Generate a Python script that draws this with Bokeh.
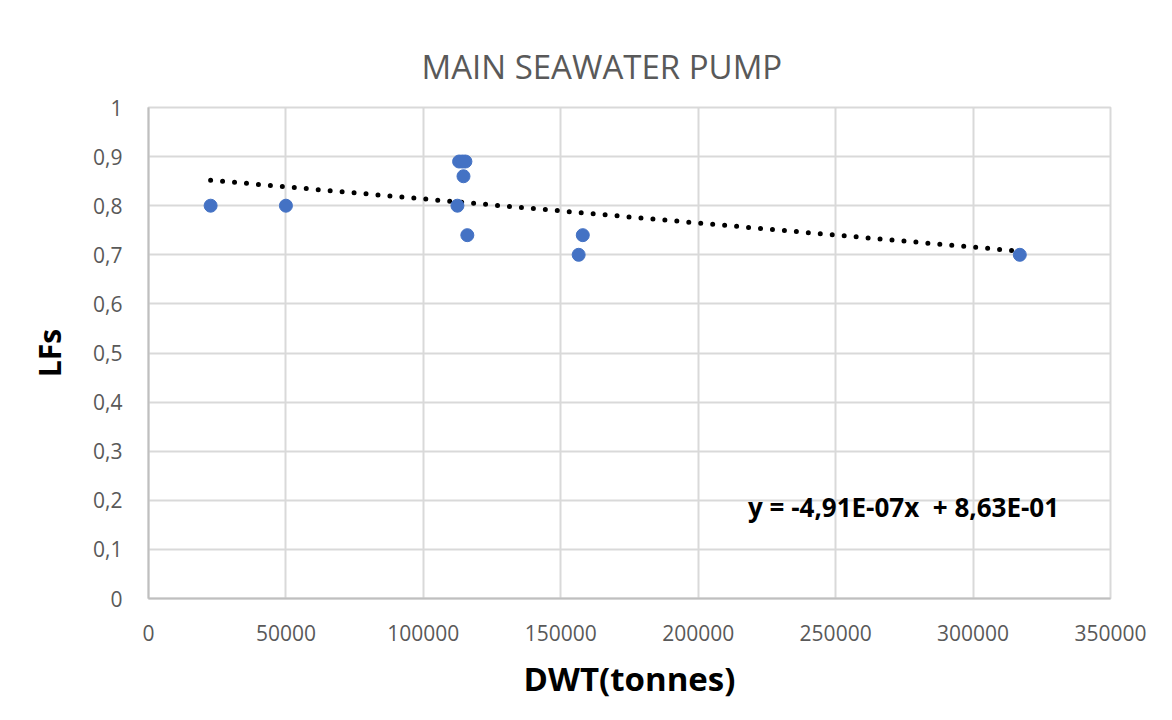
from bokeh.plotting import figure
from bokeh.models import ColumnDataSource, FixedTicker, Label, Range1d
from bokeh.embed import file_html
from bokeh.resources import INLINE

# Data
dwt = [22600, 50000, 112400, 114600, 113000, 114200, 115300, 116000, 156500, 158000, 317000]
lfs = [0.80, 0.80, 0.80, 0.86, 0.89, 0.89, 0.89, 0.74, 0.70, 0.74, 0.70]

slope = -4.91e-07
intercept = 0.863

x_ticks = [0, 50000, 100000, 150000, 200000, 250000, 300000, 350000]
y_ticks = [0.0, 0.1, 0.2, 0.3, 0.4, 0.5, 0.6, 0.7, 0.8, 0.9, 1.0]
y_tick_labels = ["0", "0,1", "0,2", "0,3", "0,4", "0,5", "0,6", "0,7", "0,8", "0,9", "1"]

title_text = "MAIN SEAWATER PUMP"
eq_text = "y = -4,91E-07x\u00a0\u00a0+ 8,63E-01"

W, H = 1160, 710
FONT = "Open Sans"
GRID = "#D9D9D9"
TXT = "#595959"

p = figure(width=W, height=H, output_backend="svg", toolbar_location=None,
           x_range=Range1d(0, 350000), y_range=Range1d(0, 1), title=title_text,
           min_border_left=148, min_border_right=50, min_border_top=107, min_border_bottom=112)

p.title.align = "left"
p.title.offset = 273
p.title.standoff = 37
p.title.text_font = FONT
p.title.text_font_size = "33px"
p.title.text_font_style = "normal"
p.title.text_color = TXT

p.xaxis.ticker = FixedTicker(ticks=x_ticks)
p.yaxis.ticker = FixedTicker(ticks=y_ticks)
p.xaxis.major_label_overrides = {t: str(t) for t in x_ticks}
p.yaxis.major_label_overrides = {t: l for t, l in zip(y_ticks, y_tick_labels)}

for ax in (p.xaxis, p.yaxis):
    ax.major_tick_line_color = None
    ax.minor_tick_line_color = None
    ax.axis_line_color = "#BFBFBF"
    ax.axis_line_width = 2
    ax.major_label_text_font = FONT
    ax.major_label_text_font_size = "21px"
    ax.major_label_text_color = TXT
    ax.axis_label_text_font = FONT
    ax.axis_label_text_font_style = "bold"
    ax.axis_label_text_color = "#000000"

p.xaxis.axis_label_text_font_size = "33px"
p.yaxis.axis_label_text_font_size = "30px"
p.xaxis.major_label_standoff = 20
p.yaxis.major_label_standoff = 20
p.xaxis.axis_label = "DWT(tonnes)"
p.yaxis.axis_label = "LFs"
p.xaxis.axis_label_standoff = 12
p.yaxis.axis_label_standoff = 20

p.grid.grid_line_color = GRID
p.grid.grid_line_width = 2
p.outline_line_color = GRID
p.outline_line_width = 2

# Trendline
x0, x1 = min(dwt), max(dwt)
p.line([x0, x1], [slope * x0 + intercept, slope * x1 + intercept],
       line_color="black", line_width=5, line_dash="0 12", line_cap="round")

src = ColumnDataSource(dict(x=dwt, y=lfs))
p.scatter("x", "y", source=src, size=13, fill_color="#4472C4", line_color="#4472C4")

p.add_layout(Label(x=274700, y=0.187, text=eq_text, text_font=FONT, text_font_size="26px",
                   text_font_style="bold", text_color="black",
                   text_align="center", text_baseline="middle"))

open("out.html", "w").write(file_html(p, INLINE))
